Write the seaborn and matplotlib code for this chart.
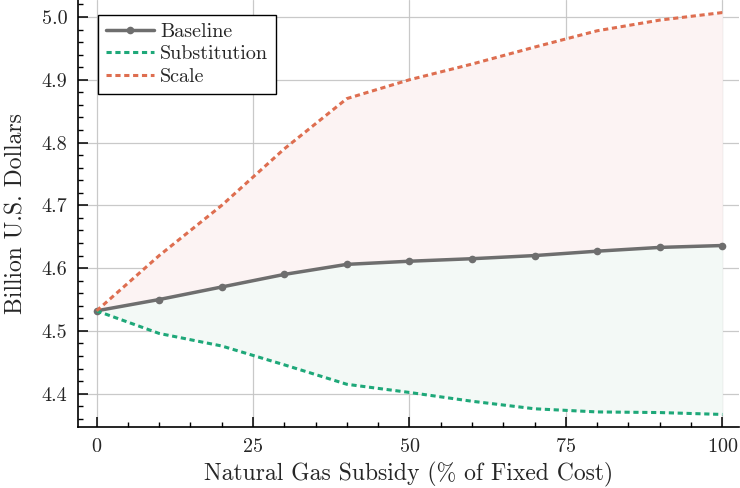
import numpy as np
import pandas as pd
import matplotlib
matplotlib.use("Agg")
import matplotlib.pyplot as plt
from matplotlib.ticker import MultipleLocator, FormatStrFormatter
import seaborn as sns

# Data
subsidy = [0, 10, 20, 30, 40, 50, 60, 70, 80, 90, 100]
baseline = [4.532, 4.550, 4.570, 4.590, 4.606, 4.611, 4.615, 4.620, 4.627, 4.633, 4.636]
substitution = [4.532, 4.496, 4.476, 4.446, 4.415, 4.402, 4.388, 4.376, 4.371, 4.370, 4.367]
scale = [4.532, 4.620, 4.700, 4.790, 4.870, 4.900, 4.925, 4.952, 4.978, 4.995, 5.007]

gray = "#6e6e6e"
green = "#1ea879"
orange = "#de6e50"

sns.set_style("white")
plt.rcParams['font.family'] = 'serif'
plt.rcParams['font.serif'] = ['cmr10', 'DejaVu Serif']
plt.rcParams['mathtext.fontset'] = 'cm'
plt.rcParams['axes.formatter.use_mathtext'] = True

df = pd.DataFrame({"x": subsidy, "Baseline": baseline,
                   "Substitution": substitution, "Scale": scale})

fig, ax = plt.subplots(figsize=(7.4, 4.88), dpi=100)
fig.subplots_adjust(left=0.106, right=0.999, top=1.0, bottom=0.125)

# shaded areas between the scenarios
ax.fill_between(df["x"], df["Baseline"], df["Scale"], color="#fcf3f3", lw=0)
ax.fill_between(df["x"], df["Substitution"], df["Baseline"], color="#f3f9f6", lw=0)

dash = (0, (1.7, 1.2))
sns.lineplot(data=df, x="x", y="Baseline", ax=ax, color=gray, lw=2.5,
             marker="o", markersize=5.5, markeredgewidth=0, label="Baseline")
sns.lineplot(data=df, x="x", y="Substitution", ax=ax, color=green, lw=2.2,
             linestyle=dash, label="Substitution")
sns.lineplot(data=df, x="x", y="Scale", ax=ax, color=orange, lw=2.2,
             linestyle=dash, label="Scale")

ax.set_xlim(-2.9, 102.7)
ax.set_ylim(4.347, 5.027)
ax.xaxis.set_major_locator(MultipleLocator(25))
ax.xaxis.set_minor_locator(MultipleLocator(5))
ax.yaxis.set_major_locator(MultipleLocator(0.1))
ax.yaxis.set_minor_locator(MultipleLocator(0.02))
ax.yaxis.set_major_formatter(FormatStrFormatter("%.1f"))
ax.tick_params(which="both", direction="in", bottom=True, left=True,
               top=False, right=False, labelsize=14.5, color="black")
ax.tick_params(which="major", length=7, width=1.1, pad=8)
ax.tick_params(which="minor", length=3.5, width=1.0)
ax.grid(True, which="major", color="#c4c4c4", lw=0.9, alpha=0.9)

for side in ["top", "right"]:
    ax.spines[side].set_visible(False)
for side in ["left", "bottom"]:
    ax.spines[side].set_color("black")
    ax.spines[side].set_linewidth(1.2)

ax.set_xlabel("Natural Gas Subsidy (% of Fixed Cost)", fontsize=17, labelpad=4)
ax.set_ylabel("Billion U.S. Dollars", fontsize=17, labelpad=10)

leg = ax.legend(loc="upper left", bbox_to_anchor=(0.014, 0.988), fontsize=14.5,
                frameon=True, fancybox=False, edgecolor="black",
                handlelength=2.4, borderpad=0.4, labelspacing=0.2, handletextpad=0.3)
leg.get_frame().set_linewidth(1.0)
leg.get_frame().set_alpha(1)

fig.savefig("out.png", dpi=100)
